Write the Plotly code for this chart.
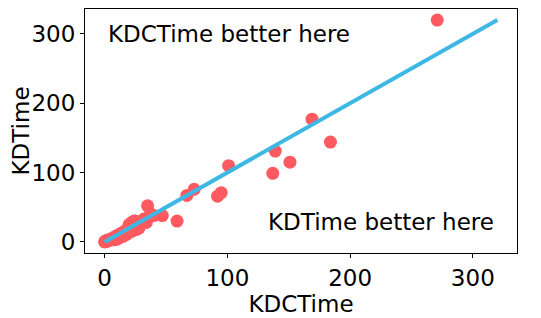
import plotly.graph_objects as go

kdc_time = [0, 0.5, 1, 1.5, 2, 3, 4, 5, 6, 7, 8, 8, 9, 10, 11, 12, 12, 13, 14, 15, 15,
            16, 17, 18, 18, 19, 20, 20, 21, 22, 22, 23, 24, 24, 25, 26, 27, 28, 30, 32,
            33, 34, 35, 36, 38, 40, 47, 59, 67, 73, 92, 95, 101, 137, 139, 151, 169,
            184, 271]
kd_time = [0, 1, 0.5, 2, 1, 3, 2, 4, 5, 6, 5, 3, 8, 4, 9, 11, 6, 10, 13, 12, 8,
           15, 14, 17, 11, 20, 16, 25, 24, 28, 15, 19, 22, 30, 30, 18, 25, 20, 27, 33,
           30, 28, 52, 36, 40, 38, 38, 30, 67, 76, 66, 71, 110, 99, 131, 115, 177,
           144, 320]
diag = [0, 320]
x_ticks = [0, 100, 200, 300]
y_ticks = [0, 100, 200, 300]

FONT = "DejaVu Sans"

fig = go.Figure()
fig.add_trace(go.Scatter(x=kdc_time, y=kd_time, mode="markers",
                         marker=dict(color="#FF5A5F", size=13, line=dict(width=0)),
                         showlegend=False))
fig.add_trace(go.Scatter(x=diag, y=diag, mode="lines",
                         line=dict(color="#3DB7E4", width=4), showlegend=False))

fig.add_annotation(x=1, y=300, xref="x", yref="y", text="KDCTime better here",
                   showarrow=False, xanchor="left", yanchor="middle",
                   font=dict(family=FONT, size=23, color="black"))
fig.add_annotation(x=319, y=29, xref="x", yref="y", text="KDTime better here",
                   showarrow=False, xanchor="right", yanchor="middle",
                   font=dict(family=FONT, size=23, color="black"))

axis_common = dict(showgrid=False, zeroline=False, showline=True, mirror=True,
                   linecolor="black", linewidth=1, ticks="outside", ticklen=4,
                   tickcolor="black", tickfont=dict(family=FONT, size=23, color="black"),
                   range=[-16, 336], automargin=False)
fig.update_xaxes(**axis_common, tickvals=x_ticks,
                 title=dict(text="KDCTime", font=dict(family=FONT, size=23, color="black"),
                            standoff=0))
fig.update_yaxes(**axis_common, tickvals=y_ticks,
                 title=dict(text="KDTime", font=dict(family=FONT, size=23, color="black"),
                            standoff=6))

fig.update_layout(width=533, height=310, autosize=False,
                  margin=dict(l=77, r=24, t=1, b=65, pad=0),
                  plot_bgcolor="white", paper_bgcolor="white")

fig.write_html("out.html")
